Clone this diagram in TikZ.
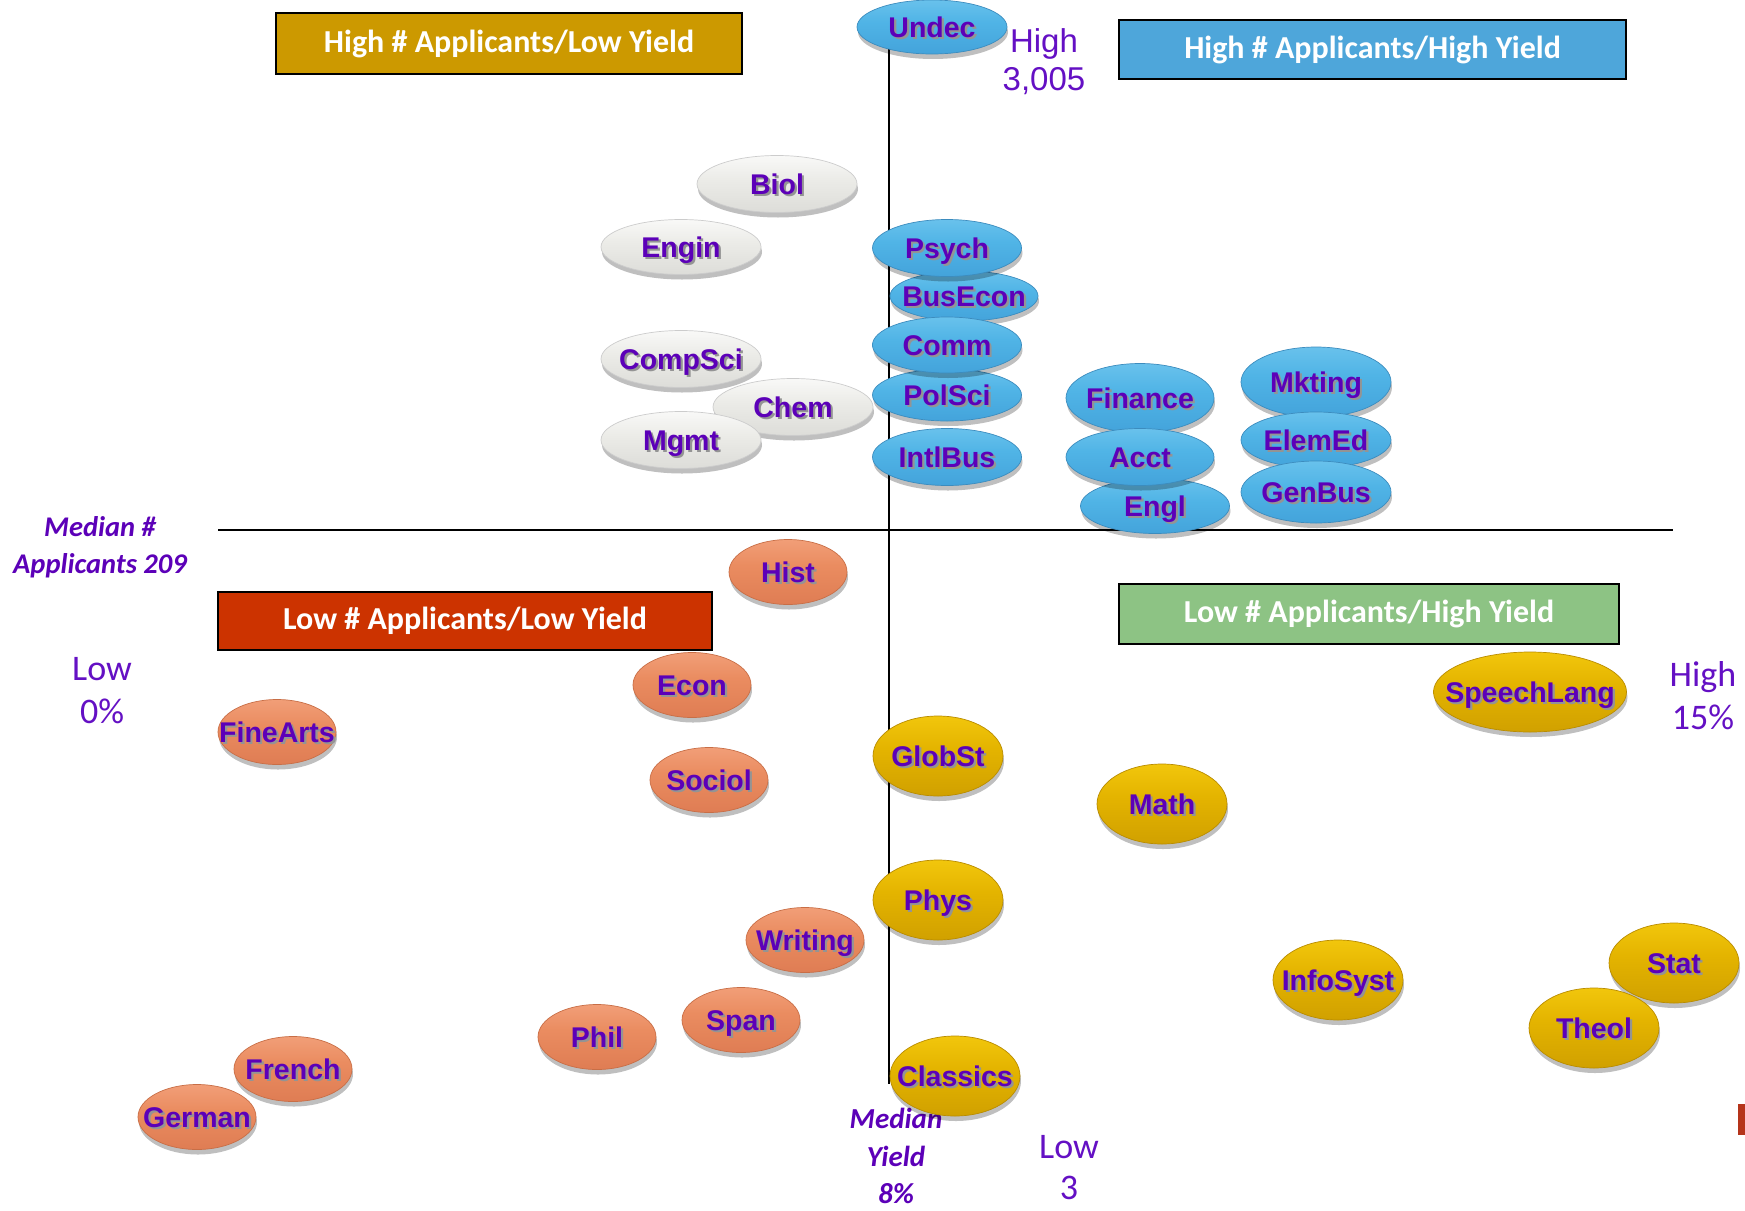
\documentclass[tikz,border=0pt]{standalone}
\usepackage{fontspec}
\setmainfont{Carlito}
\newfontfamily\arialf{Liberation Sans}
\usetikzlibrary{shapes.geometric,shadows}
\definecolor{lab}{HTML}{5C00B8}
\definecolor{axl}{HTML}{6410C4}
\definecolor{goldbox}{HTML}{CC9900}
\definecolor{bluebox}{HTML}{4EA6DA}
\definecolor{redbox}{HTML}{CC3300}
\definecolor{greenbox}{HTML}{8DC384}
\definecolor{redfrag}{HTML}{B5341A}
% glossy shadings (bottom = 0bp, top = 100bp)
\definecolor{bl1}{RGB}{120,202,240}
\definecolor{bl2}{RGB}{80,180,230}
\definecolor{bl3}{RGB}{62,156,214}
\definecolor{bl4}{RGB}{138,210,243}
\pgfdeclareverticalshading{blueglass}{100bp}{color(0bp)=(bl4); color(12bp)=(bl3); color(55bp)=(bl2); color(88bp)=(bl1); color(100bp)=(bl2)}
\definecolor{go1}{RGB}{250,210,20}
\definecolor{go2}{RGB}{228,180,0}
\definecolor{go3}{RGB}{200,152,0}
\definecolor{go4}{RGB}{236,196,60}
\pgfdeclareverticalshading{goldglass}{100bp}{color(0bp)=(go4); color(12bp)=(go3); color(55bp)=(go2); color(88bp)=(go1); color(100bp)=(go2)}
\definecolor{or1}{RGB}{246,170,135}
\definecolor{or2}{RGB}{234,140,96}
\definecolor{or3}{RGB}{218,118,78}
\definecolor{or4}{RGB}{242,168,130}
\pgfdeclareverticalshading{orangeglass}{100bp}{color(0bp)=(or4); color(12bp)=(or3); color(55bp)=(or2); color(88bp)=(or1); color(100bp)=(or2)}
\definecolor{wh1}{RGB}{255,255,255}
\definecolor{wh2}{RGB}{236,236,232}
\definecolor{wh3}{RGB}{214,214,210}
\definecolor{wh4}{RGB}{246,246,244}
\pgfdeclareverticalshading{whiteglass}{100bp}{color(0bp)=(wh4); color(12bp)=(wh3); color(55bp)=(wh2); color(85bp)=(wh1); color(100bp)=(wh2)}
\newcommand\el[1]{\makebox[0pt]{\kern2.2pt\makebox[0pt]{\raisebox{-2.2pt}{\textcolor{black!42}{#1}}}\kern-2.2pt\makebox[0pt]{#1}}}
\tikzset{
  qbox/.style={draw=black, line width=2.5pt, inner sep=0pt, text=white,
    font=\fontsize{32pt}{38pt}\selectfont\bfseries},
  ell/.style={ellipse, inner sep=0pt, text=lab, line width=0.7pt,
    text height=20.4pt, text depth=0pt,
    font=\arialf\fontsize{28.5pt}{32pt}\selectfont\bfseries,
    drop shadow={shadow xshift=1pt, shadow yshift=-5pt, opacity=0.25, fill=black}},
  whiteell/.style={ell, draw=black!20, shading=whiteglass,
    minimum width=160pt, minimum height=57pt},
  blueell/.style={ell, draw={rgb,255:red,60;green,140;blue,190}, shading=blueglass,
    minimum width=149pt, minimum height=56pt},
  orangeell/.style={ell, draw={rgb,255:red,200;green,110;blue,70}, shading=orangeglass,
    minimum width=118pt, minimum height=65pt},
  goldell/.style={ell, draw={rgb,255:red,185;green,140;blue,0}, shading=goldglass,
    minimum width=130pt, minimum height=80pt},
  axlab/.style={text=axl, align=center, inner sep=0pt, font=\fontsize{36pt}{43pt}\selectfont},
  medlab/.style={text=lab, align=center, inner sep=0pt, font=\fontsize{29pt}{37.5pt}\selectfont\bfseries\itshape},
  axis/.style={line width=2.5pt, black}
}
\begin{document}
\begin{tikzpicture}[x=1pt,y=-1pt]
\fill[white] (0,0) rectangle (1745,1210);
\useasboundingbox (0,0) rectangle (1745,1210);

% axes
\coordinate (vtop) at (889,27);
\coordinate (vbot) at (889,1084);
\coordinate (hleft) at (218,530);
\coordinate (hright) at (1673,530);
\draw[axis] (vtop) -- (vbot);
\draw[axis] (hleft) -- (hright);

% quadrant boxes
\node[qbox, fill=goldbox, minimum width=466pt, minimum height=61pt] (q1) at (509,43.5) {High \# Applicants/Low Yield};
\node[qbox, fill=bluebox, minimum width=507pt, minimum height=59pt] (q2) at (1372.5,49.5) {High \# Applicants/High Yield};
\node[qbox, fill=redbox, minimum width=494pt, minimum height=58pt] (q3) at (465,621) {Low \# Applicants/Low Yield};
\node[qbox, fill=greenbox, minimum width=500pt, minimum height=60pt] (q4) at (1369,614) {Low \# Applicants/High Yield};

% axis labels
\node[axlab, font=\arialf\fontsize{33pt}{38pt}\selectfont] (hi3005) at (1044,62) {High\\3,005};
\node[medlab, font=\fontsize{28.5pt}{37pt}\selectfont\bfseries\itshape] (medapp) at (100,547) {Median \#\\Applicants 209};
\node[axlab] (low0) at (102,691) {Low\\0\%};
\node[axlab] (hi15) at (1703,696) {High\\15\%};
\node[medlab] (medyield) at (896,1156) {Median\\Yield\\8\%};
\node[axlab, font=\fontsize{36pt}{41pt}\selectfont] (low3) at (1069,1168) {Low\\3};
\fill[redfrag] (1738,1104) rectangle (1745,1135);

% white
\node[whiteell] (biol) at (777,184) {\el{Biol}};
\node[whiteell, minimum height=55pt] (engin) at (681,247) {\el{Engin}};
\node[whiteell] (compsci) at (681,359) {\el{CompSci}};
\node[whiteell] (chem) at (793,407) {\el{Chem}};
\node[whiteell] (mgmt) at (681,440) {\el{Mgmt}};

% blue
\node[blueell, minimum width=150pt, minimum height=54pt] (undec) at (932,27) {\el{Undec}};
\node[blueell, minimum width=148pt, minimum height=50pt] (busecon) at (964,296) {\el{BusEcon}};
\node[blueell, minimum height=57pt] (psych) at (947,248) {\el{Psych}};
\node[blueell, minimum height=52pt] (polsci) at (947,395) {\el{PolSci}};
\node[blueell] (comm) at (947,345) {\el{Comm}};
\node[blueell, minimum height=57pt] (intlbus) at (947,457) {\el{IntlBus}};
\node[blueell, minimum width=148pt, minimum height=69pt] (finance) at (1140,398) {\el{Finance}};
\node[blueell, minimum height=55pt] (engl) at (1155,506) {\el{Engl}};
\node[blueell, minimum width=148pt, minimum height=57pt] (acct) at (1140,457) {\el{Acct}};
\node[blueell, minimum width=150pt, minimum height=70pt] (mkting) at (1316,382) {\el{Mkting}};
\node[blueell, minimum width=150pt] (elemed) at (1316,440) {\el{ElemEd}};
\node[blueell, minimum width=150pt, minimum height=62pt] (genbus) at (1316,492) {\el{GenBus}};

% orange
\node[orangeell] (hist) at (788,572) {\el{Hist}};
\node[orangeell] (econ) at (692,685) {\el{Econ}};
\node[orangeell] (finearts) at (277,732) {\el{FineArts}};
\node[orangeell] (sociol) at (709,780) {\el{Sociol}};
\node[orangeell] (writing) at (805,940) {\el{Writing}};
\node[orangeell] (span) at (741,1020) {\el{Span}};
\node[orangeell] (phil) at (597,1037) {\el{Phil}};
\node[orangeell] (french) at (293,1069) {\el{French}};
\node[orangeell] (german) at (197,1117) {\el{German}};

% gold
\node[goldell] (globst) at (938,756) {\el{GlobSt}};
\node[goldell] (math) at (1162,804) {\el{Math}};
\node[goldell, minimum width=193pt] (speech) at (1530,692) {\el{SpeechLang}};
\node[goldell] (phys) at (938,900) {\el{Phys}};
\node[goldell] (infosyst) at (1338,980) {\el{InfoSyst}};
\node[goldell] (stat) at (1674,963) {\el{Stat}};
\node[goldell] (theol) at (1594,1028) {\el{Theol}};
\node[goldell] (classics) at (955,1076) {\el{Classics}};
\end{tikzpicture}
\end{document}
